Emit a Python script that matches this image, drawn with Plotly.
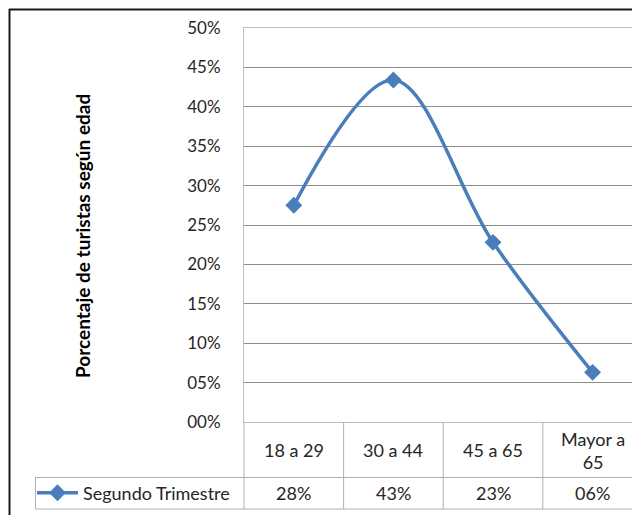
import plotly.graph_objects as go

# Age groups and share of tourists (second quarter)
CATEGORIES = ["18 a 29", "30 a 44", "45 a 65", "Mayor a<br>65"]
SERIES_NAME = "Segundo Trimestre"
VALUES = [0.275, 0.434, 0.228, 0.063]
Y_TICKS = [0.0, 0.05, 0.10, 0.15, 0.20, 0.25, 0.30, 0.35, 0.40, 0.45, 0.50]
Y_TICK_LABELS = ["00%", "05%", "10%", "15%", "20%", "25%", "30%", "35%", "40%", "45%", "50%"]
Y_TITLE = "Porcentaje de turistas según edad"

W, H = 632, 515
PLOT_LEFT, PLOT_TOP, PLOT_BOTTOM = 244, 28, 422
CAT_WIDTH = 99.6

BLUE = "#4A7EBB"
TEXT = "#262626"
GRID = "#8c8c8c"
TABLE = "#b0b0b0"
FONT = "Lato"


def px(x):
    """pixel x -> paper x"""
    return (x - PLOT_LEFT) / (W - PLOT_LEFT)


def py(y):
    """pixel y -> paper y"""
    return (PLOT_BOTTOM - y) / (PLOT_BOTTOM - PLOT_TOP)


n = len(CATEGORIES)
xs = list(range(n))

fig = go.Figure()
fig.add_trace(go.Scatter(
    x=xs, y=VALUES, name=SERIES_NAME, mode="lines+markers",
    line=dict(color=BLUE, width=3.5, shape="spline", smoothing=1.0),
    marker=dict(symbol="diamond", size=13, color=BLUE),
    showlegend=True,
))

shapes = []
# outer chart border (top and left)
shapes.append(dict(type="line", xref="paper", yref="paper",
                   x0=px(9), x1=px(W + 5), y0=py(9.5), y1=py(9.5),
                   line=dict(color="#1a1a1a", width=2)))
shapes.append(dict(type="line", xref="paper", yref="paper",
                   x0=px(9.5), x1=px(9.5), y0=py(9), y1=py(H + 5),
                   line=dict(color="#1a1a1a", width=2)))

# data table grid
row_mid, row_bot = 477.5, 509
shapes.append(dict(type="line", xref="paper", yref="paper",
                   x0=px(35), x1=1.0, y0=py(row_mid), y1=py(row_mid),
                   line=dict(color=TABLE, width=1)))
shapes.append(dict(type="line", xref="paper", yref="paper",
                   x0=px(35), x1=1.0, y0=py(row_bot), y1=py(row_bot),
                   line=dict(color=TABLE, width=1)))
shapes.append(dict(type="line", xref="paper", yref="paper",
                   x0=px(35.5), x1=px(35.5), y0=py(row_mid), y1=py(row_bot),
                   line=dict(color=TABLE, width=1)))
shapes.append(dict(type="line", xref="paper", yref="paper",
                   x0=0, x1=0, y0=0, y1=py(row_bot),
                   line=dict(color=TABLE, width=1)))
for i in range(n - 1):
    shapes.append(dict(type="line", xref="x", yref="paper",
                       x0=i + 0.5, x1=i + 0.5, y0=0, y1=py(row_bot),
                       line=dict(color=TABLE, width=1)))

annotations = []
# category row and value row of the data table
for i, (cat, v) in enumerate(zip(CATEGORIES, VALUES)):
    annotations.append(dict(x=i, y=py(450), xref="x", yref="paper",
                            text=cat, showarrow=False, xanchor="center", yanchor="middle",
                            font=dict(family=FONT, size=18, color=TEXT)))
    annotations.append(dict(x=i, y=py(493), xref="x", yref="paper",
                            text=f"{round(v * 100):02d}%", showarrow=False,
                            xanchor="center", yanchor="middle",
                            font=dict(family=FONT, size=18, color=TEXT)))

# vertical axis title
annotations.append(dict(x=px(82), y=py(236), xref="paper", yref="paper",
                        text=f"<b>{Y_TITLE}</b>", textangle=-90, showarrow=False,
                        xanchor="center", yanchor="middle",
                        font=dict(family=FONT, size=19, color="#000000")))

fig.update_layout(
    width=W, height=H,
    margin=dict(l=PLOT_LEFT, r=0, t=PLOT_TOP, b=H - PLOT_BOTTOM, pad=0),
    paper_bgcolor="white", plot_bgcolor="white",
    font=dict(family=FONT, size=16, color=TEXT),
    showlegend=True,
    legend=dict(x=px(32), y=py(493), xanchor="left", yanchor="middle",
                bgcolor="rgba(0,0,0,0)", borderwidth=0, itemwidth=41,
                font=dict(family=FONT, size=18, color=TEXT)),
    shapes=shapes,
    annotations=annotations,
    xaxis=dict(range=[-0.5, -0.5 + (W - PLOT_LEFT) / CAT_WIDTH],
               showgrid=False, zeroline=False, showticklabels=False, ticks="",
               showline=True, mirror=True, linecolor="#bfbfbf", linewidth=1),
    yaxis=dict(range=[0, 0.5], tickvals=Y_TICKS, ticktext=Y_TICK_LABELS,
               showgrid=True, gridcolor=GRID, gridwidth=1, zeroline=False,
               showline=True, linecolor="#bfbfbf", linewidth=1,
               ticks="", ticklabelstandoff=19,
               tickfont=dict(family=FONT, size=17, color=TEXT)),
)

fig.write_html("out.html")
